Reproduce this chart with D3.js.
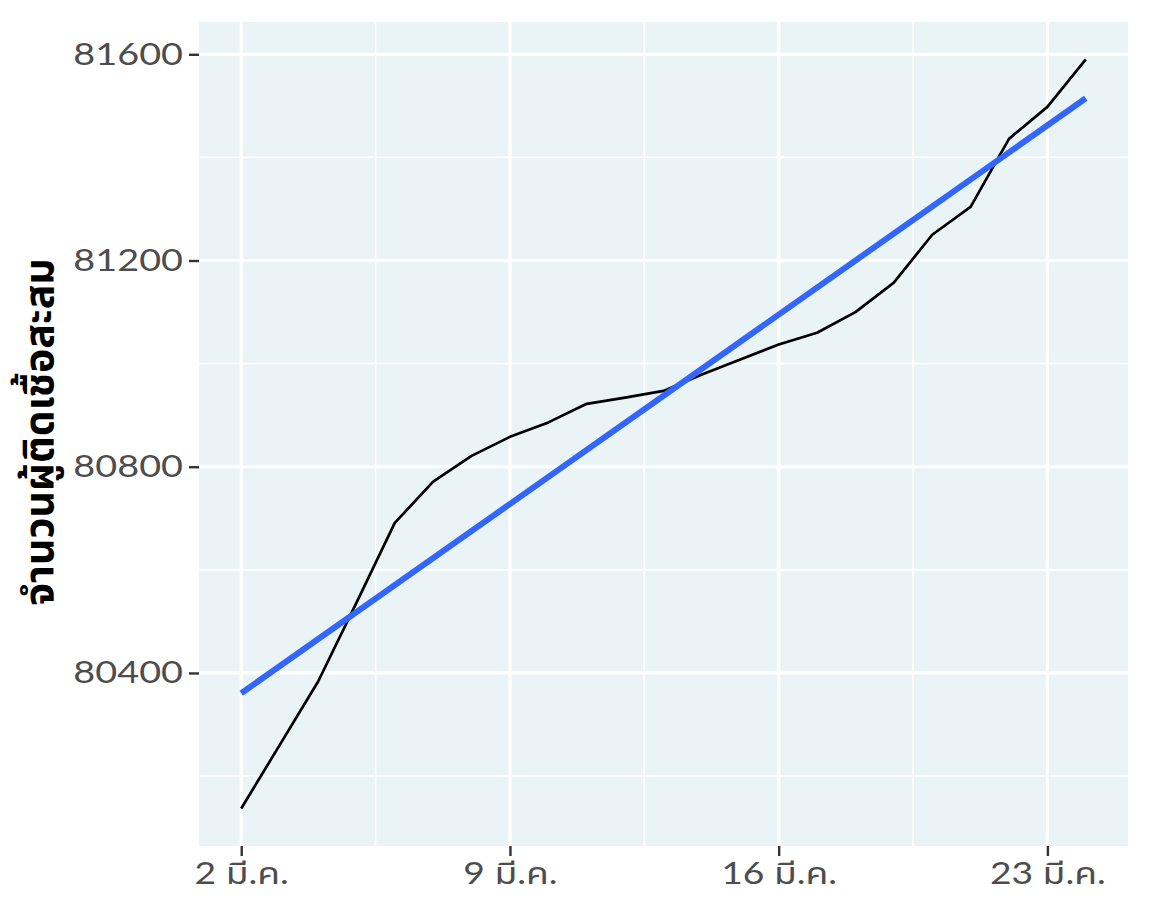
<!DOCTYPE html>
<html>
<head>
<meta charset="utf-8">
<script src="https://cdn.jsdelivr.net/npm/d3@7"></script>
<style>
  body { margin: 0; background: #fff; }
  svg { display: block; }
</style>
</head>
<body>
<div id="chart"></div>
<script>
// วันที่ (มีนาคม) และยอดผู้ติดเชื้อสะสม
const days = [2,3,4,5,6,7,8,9,10,11,12,13,14,15,16,17,18,19,20,21,22,23,24]
const cases = [80137,80260,80383,80536,80691,80771,80821,80858,80886,80922,80934,80947,80979,81008,81037,81060,81100,81157,81250,81304,81436,81498,81590]
const xTicks = [2, 9, 16, 23]
const xTickLabels = ['2 มี.ค.', '9 มี.ค.', '16 มี.ค.', '23 มี.ค.']
const yTicks = [80400, 80800, 81200, 81600]
const yTitle = 'จำนวนผู้ติดเชื้อสะสม'

const svgWidth = 1152, svgHeight = 922
const margin = {top: 22, right: 24, bottom: 76, left: 199}
const innerWidth = svgWidth - margin.left - margin.right
const innerHeight = svgHeight - margin.top - margin.bottom

// day of March -> Date (fractional days allowed)
const march = n => new Date(Date.UTC(2020, 2, 1) + (n - 1) * 864e5)

const data = days.map((d, i) => ({day: march(d), n: d, count: cases[i]}))

// ggplot style 5% expansion
const xExt = d3.extent(data, d => d.n)
const yExt = d3.extent(data, d => d.count)
const xPad = (xExt[1] - xExt[0]) * 0.05
const yPad = (yExt[1] - yExt[0]) * 0.05

const xScale = d3.scaleUtc()
    .domain([march(xExt[0] - xPad), march(xExt[1] + xPad)])
    .range([0, innerWidth])
const yScale = d3.scaleLinear()
    .domain([yExt[0] - yPad, yExt[1] + yPad])
    .range([innerHeight, 0])

// linear fit (geom_smooth method = lm)
const mx = d3.mean(data, d => d.n), my = d3.mean(data, d => d.count)
const slope = d3.sum(data, d => (d.n - mx) * (d.count - my)) / d3.sum(data, d => (d.n - mx) ** 2)
const intercept = my - slope * mx
const fit = [xExt[0], xExt[1]].map(n => ({day: march(n), count: intercept + slope * n}))

const svg = d3.select('#chart').append('svg').attr('width', svgWidth).attr('height', svgHeight)
const g = svg.append('g').attr('transform', `translate(${margin.left}, ${margin.top})`)

g.append('rect')
    .attr('width', innerWidth).attr('height', innerHeight)
    .attr('fill', '#EAF3F6')

// minor grid
const xMinor = xTicks.slice(0, -1).map((t, i) => march((t + xTicks[i + 1]) / 2))
const yMinor = [yTicks[0] - 200].concat(yTicks.slice(0, -1).map((t, i) => (t + yTicks[i + 1]) / 2))
g.selectAll('.xminor').data(xMinor).join('line')
    .attr('x1', d => xScale(d)).attr('x2', d => xScale(d))
    .attr('y1', 0).attr('y2', innerHeight)
    .attr('stroke', '#fff').attr('stroke-width', 1.6)
g.selectAll('.yminor').data(yMinor).join('line')
    .attr('y1', d => yScale(d)).attr('y2', d => yScale(d))
    .attr('x1', 0).attr('x2', innerWidth)
    .attr('stroke', '#fff').attr('stroke-width', 1.6)

// major grid
g.selectAll('.xmajor').data(xTicks).join('line')
    .attr('x1', d => xScale(march(d))).attr('x2', d => xScale(march(d)))
    .attr('y1', 0).attr('y2', innerHeight)
    .attr('stroke', '#fff').attr('stroke-width', 3.2)
g.selectAll('.ymajor').data(yTicks).join('line')
    .attr('y1', d => yScale(d)).attr('y2', d => yScale(d))
    .attr('x1', 0).attr('x2', innerWidth)
    .attr('stroke', '#fff').attr('stroke-width', 3.2)

const line = d3.line()
    .x(d => xScale(d.day))
    .y(d => yScale(d.count))

g.append('path')
    .datum(data)
    .attr('d', line)
    .attr('fill', 'none')
    .attr('stroke', '#000')
    .attr('stroke-width', 2.7)
    .attr('stroke-linejoin', 'round')

g.append('path')
    .datum(fit)
    .attr('d', line)
    .attr('fill', 'none')
    .attr('stroke', '#3366FF')
    .attr('stroke-width', 6)

// axes
const xAxis = d3.axisBottom(xScale)
    .tickValues(xTicks.map(march))
    .tickFormat((d, i) => xTickLabels[i])
    .tickSize(10).tickSizeOuter(0).tickPadding(6)
const yAxis = d3.axisLeft(yScale)
    .tickValues(yTicks)
    .tickFormat(d3.format('d'))
    .tickSize(10).tickSizeOuter(0).tickPadding(5)

const fontFam = "Lato, 'Noto Sans Thai', 'Noto Sans', sans-serif"

const gx = g.append('g')
    .attr('transform', `translate(0, ${innerHeight})`)
    .call(xAxis)
gx.select('.domain').remove()
gx.selectAll('line').attr('stroke', '#333').attr('stroke-width', 2.4)
gx.selectAll('text')
    .style('font-family', fontFam)
    .style('font-size', '31px')
    .attr('fill', '#4D4D4D')
    .attr('transform', 'scale(1.2,1)')

const gy = g.append('g').call(yAxis)
gy.select('.domain').remove()
gy.selectAll('line').attr('stroke', '#333').attr('stroke-width', 2.4)
gy.selectAll('text')
    .style('font-family', fontFam)
    .style('font-size', '31px')
    .attr('fill', '#4D4D4D')
    .attr('x', 0)
    .attr('transform', 'translate(-16,0) scale(1.22,1)')

svg.append('text')
    .attr('transform', `translate(53, ${margin.top + innerHeight / 2 - 2}) rotate(-90)`)
    .text(yTitle)
    .style('font-family', fontFam)
    .style('font-size', '41px')
    .style('font-weight', 'bold')
    .style('text-anchor', 'middle')
    .attr('fill', '#000')
</script>
</body>
</html>
